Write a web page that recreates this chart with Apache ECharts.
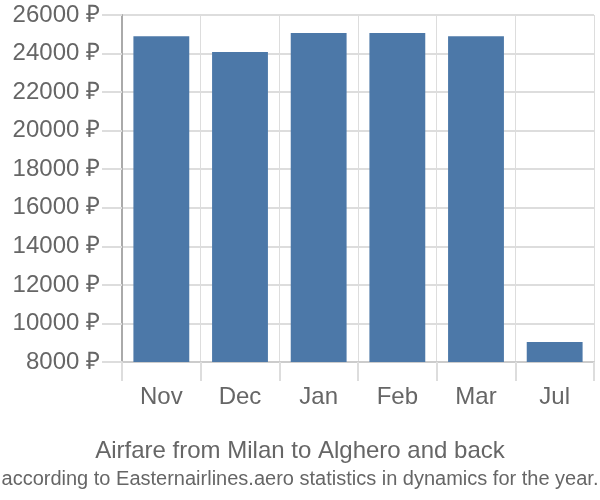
<!DOCTYPE html>
<html><head><meta charset="utf-8">
<script src="https://cdn.jsdelivr.net/npm/echarts@6/dist/echarts.min.js"></script>
<style>html,body{margin:0;padding:0;background:#fff}#c{width:600px;height:500px}</style>
</head><body><div id="c"></div>
<script>
var categories = ['Nov', 'Dec', 'Jan', 'Feb', 'Mar', 'Jul'];
var prices = [24900, 24080, 25070, 25070, 24900, 9040];
var yTicks = [8000, 26000, 2000]; // min, max, step
var titleText = 'Airfare from Milan to Alghero and back';
var subText = 'according to Easternairlines.aero statistics in dynamics for the year.';

var chart = echarts.init(document.getElementById('c'), null, {renderer: 'canvas'});
var font = 'Liberation Sans, Arial, sans-serif';
chart.setOption({
  animation: false,
  title: [
    {text: titleText, left: 'center', top: 433, textStyle: {fontFamily: font, fontSize: 24, fontWeight: 'normal', color: '#666', lineHeight: 26}},
    {text: subText, left: 'center', top: 463, textStyle: {fontFamily: font, fontSize: 20, fontWeight: 'normal', color: '#666', lineHeight: 22}}
  ],
  grid: {left: 122, right: 6, top: 15, bottom: 138, containLabel: false},
  xAxis: {
    type: 'category', data: categories,
    axisLine: {show: true, lineStyle: {color: '#ccc', width: 2}},
    axisTick: {show: true, length: 19, alignWithLabel: false, lineStyle: {color: '#ddd', width: 2}},
    splitLine: {show: true, lineStyle: {color: '#ddd', width: 1}},
    axisLabel: {fontFamily: font, fontSize: 24, color: '#666', margin: 23}
  },
  yAxis: {
    type: 'value', min: yTicks[0], max: yTicks[1], interval: yTicks[2],
    axisLine: {show: true, lineStyle: {color: '#aaa', width: 2}},
    axisTick: {show: true, length: 20, lineStyle: {color: '#ddd', width: 2}},
    splitLine: {show: true, lineStyle: {color: '#ddd', width: 2}},
    axisLabel: {fontFamily: font, fontSize: 24, color: '#666', margin: 22, formatter: function (v) { return v + ' \u20BD'; }}
  },
  series: [{
    type: 'bar', data: prices, barWidth: '71%',
    itemStyle: {color: '#4c78a8'}
  }]
});
</script></body></html>
